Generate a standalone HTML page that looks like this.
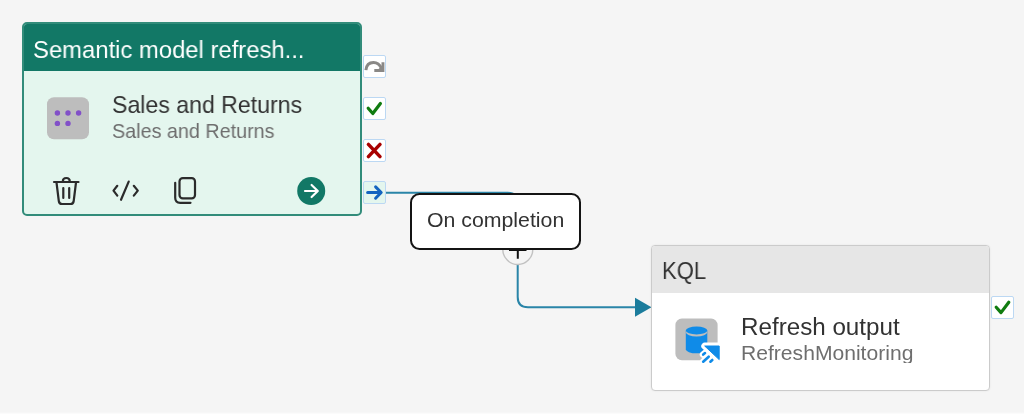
<!DOCTYPE html>
<html><head><meta charset="utf-8">
<style>
html,body{margin:0;padding:0;}
body{width:1024px;height:418px;overflow:hidden;background:#f5f5f5;position:relative;font-family:"Liberation Sans",sans-serif;}
.abs{position:absolute;}
.t{position:absolute;white-space:nowrap;line-height:1;transform-origin:0 0;will-change:transform;}
#strip{left:0;top:412px;width:1024px;height:6px;background:linear-gradient(#f5f5f5 0,#fff 2.5px);}
#c1{left:22.2px;top:22.4px;width:340.1px;height:193.2px;box-sizing:border-box;border:2px solid #328c7a;border-radius:5px;background:#e4f6ee;overflow:hidden;}
#c1h{left:-1px;top:-1px;width:340px;height:47.6px;background:#127866;}
#c2{left:651px;top:244.5px;width:339.2px;height:146.5px;box-sizing:border-box;border:1.3px solid #cbcbcb;border-radius:4px;background:#fff;overflow:hidden;box-shadow:0 0 2px rgba(0,0,0,0.08);}
#c2h{left:0;top:0;width:339px;height:47.8px;background:#e6e6e6;}
.sb{position:absolute;width:22.8px;height:22.8px;box-sizing:border-box;border:1.5px solid #bcd8f3;background:#fff;border-radius:2px;}
#tip{left:410.2px;top:192.6px;width:171px;height:57px;box-sizing:border-box;border:2px solid #141414;border-radius:9.5px;background:#fff;}
</style></head><body>
<div class="abs" id="strip"></div>

<!-- connector line -->
<svg class="abs" style="left:0;top:0" width="1024" height="418" viewBox="0 0 1024 418">
  <path d="M384.6 192.8 H508 Q517.7 192.8 517.7 202 V297 Q517.7 307.3 528 307.3 H637" fill="none" stroke="#2a85a8" stroke-width="2"/>
  <path d="M635 297.8 L651.5 307.3 L635 316.8 Z" fill="#1b7c9c"/>
  <circle cx="517.8" cy="249.5" r="15" fill="#f5f5f5" stroke="#c2c2c2" stroke-width="1.4"/>
  <path d="M509 250 H526.5 M517.8 241 V258.8" stroke="#111" stroke-width="2" fill="none"/>
</svg>

<!-- card 1 -->
<div class="abs" id="c1">
  <div class="abs" id="c1h"></div>
</div>
<div class="t" id="t1" style="left:33.2px;top:37.51px;font-size:24.2px;color:#fff;transform:scaleX(0.985);">Semantic model refresh...</div>
<div class="t" id="t2" style="left:111.5px;top:92.51px;font-size:24.2px;color:#323232;transform:scaleX(0.955);">Sales and Returns</div>
<div class="t" id="t3" style="left:111.8px;top:121.18px;font-size:20.7px;color:#6e6e6e;transform:scaleX(0.955);">Sales and Returns</div>

<svg class="abs" style="left:0;top:0" width="420" height="230" viewBox="0 0 420 230">
  <!-- semantic model icon -->
  <rect x="47" y="97.3" width="42" height="42" rx="7" fill="#bdbdbd"/>
  <g fill="#8250c8">
    <circle cx="57.4" cy="113" r="2.7"/><circle cx="68" cy="113" r="2.7"/><circle cx="78.6" cy="113" r="2.7"/>
    <circle cx="57.4" cy="123.4" r="2.7"/><circle cx="68" cy="123.4" r="2.7"/>
  </g>
  <!-- trash -->
  <g fill="none" stroke="#2b2b2b" stroke-width="2.2" stroke-linecap="round" stroke-linejoin="round">
    <path d="M54 182 H78.5"/>
    <path d="M62.8 181.5 Q62.8 178 66.3 178 Q69.8 178 69.8 181.5"/>
    <path d="M56.5 182.5 L58.8 201 Q59.2 204 62 204 H70.5 Q73.3 204 73.7 201 L76 182.5"/>
    <path d="M63.3 188 V198 M69.2 188 V198"/>
  </g>
  <!-- code -->
  <g fill="none" stroke="#2b2b2b" stroke-width="2.2" stroke-linecap="round" stroke-linejoin="round">
    <path d="M117.3 185.8 L113.5 190.6 L117.3 195.6"/>
    <path d="M133.8 185.8 L137.8 190.6 L133.8 195.6"/>
    <path d="M128.7 181.6 L121 199.8"/>
  </g>
  <!-- copy -->
  <g fill="none" stroke="#2b2b2b" stroke-width="2.2" stroke-linecap="round" stroke-linejoin="round">
    <rect x="179.5" y="178.1" width="15.5" height="20.3" rx="3.3"/>
    <path d="M175.2 182.8 V197.8 Q175.2 202.8 180.2 202.8 H190.5"/>
  </g>
  <!-- go -->
  <circle cx="311.2" cy="191" r="14" fill="#127866"/>
  <path d="M305 191 H317.3 M311.6 185 L317.8 191 L311.6 197" fill="none" stroke="#fff" stroke-width="2.2" stroke-linecap="round" stroke-linejoin="round"/>
</svg>

<!-- side boxes -->
<div class="sb" style="left:363px;top:55px;"></div>
<div class="sb" style="left:363px;top:97px;"></div>
<div class="sb" style="left:363px;top:139px;"></div>
<div class="sb" style="left:363px;top:181px;background:#e4f6ee;"></div>
<div class="sb" style="left:991.1px;top:296px;"></div>
<svg class="abs" style="left:0;top:0" width="1024" height="418" viewBox="0 0 1024 418">
  <!-- skip arrow -->
  <path d="M365.9 70.2 C 366.4 64.8, 369.8 62.5, 373.5 62.5 C 377.5 62.5, 380 65, 381.8 68.8" fill="none" stroke="#8a8886" stroke-width="3"/>
  <path d="M374.3 69 V71.9 H384.4 V62.2 H381.5 V66.5 L378.5 69 Z" fill="#8a8886"/>
  <!-- check -->
  <path d="M368.2 108.3 L372.8 113.5 L380.4 103.5" fill="none" stroke="#107c10" stroke-width="3.2" stroke-linecap="round" stroke-linejoin="round"/>
  <!-- x -->
  <path d="M368.4 144.4 L380 156.6 M380 144.4 L368.4 156.6" fill="none" stroke="#a80000" stroke-width="3.5" stroke-linecap="round"/>
  <!-- arrow -->
  <path d="M367.6 192.5 H380.5 M375.6 186.9 L381.2 192.5 L375.6 198.2" fill="none" stroke="#1464c0" stroke-width="3" stroke-linecap="round" stroke-linejoin="round"/>
  <!-- check2 -->
  <path d="M996.2 307.2 L1001 312.6 L1008.8 302.3" fill="none" stroke="#107c10" stroke-width="3.2" stroke-linecap="round" stroke-linejoin="round"/>
</svg>

<!-- tooltip -->
<div class="abs" id="tip"></div>
<div class="t" id="t4" style="left:426.5px;top:210.1px;font-size:20.7px;color:#323232;transform:scaleX(1.029);">On completion</div>

<!-- card 2 -->
<div class="abs" id="c2">
  <div class="abs" id="c2h"></div>
</div>
<div class="t" id="t5" style="left:661.5px;top:258.61px;font-size:24.2px;color:#323232;transform:scaleX(0.91);">KQL</div>
<div class="t" id="t6" style="left:740.5px;top:314.71px;font-size:24.2px;color:#323232;transform:scaleX(1.0);">Refresh output</div>
<div class="abs" style="left:735px;top:340px;width:240px;height:23px;overflow:hidden;">
<div class="t" id="t7" style="left:5.6px;top:3.08px;font-size:20.7px;color:#6e6e6e;transform:scaleX(1.02);">RefreshMonitoring</div>
</div>
<svg class="abs" style="left:0;top:0" width="1024" height="418" viewBox="0 0 1024 418">
  <rect x="675.4" y="318.6" width="42.2" height="41.6" rx="6.5" fill="#bdbdbd"/>
  <path d="M685.8 330.5 V349.3 A10.75 4 0 0 0 707.3 349.3 V330.5 Z" fill="#0f8be8"/>
  <ellipse cx="696.55" cy="332.1" rx="10.75" ry="4.5" fill="#bdbdbd"/>
  <ellipse cx="696.55" cy="330.5" rx="10.75" ry="3.9" fill="#0f8be8"/>
  <g stroke="#fff" stroke-width="6.8" stroke-linejoin="round" stroke-linecap="round" fill="#fff">
    <path d="M704.7 346 H719.2 V359.6 Z"/>
    <path d="M703.2 354.6 L705 353.1 M703.2 361.7 L708.7 356.7 M710.4 361.7 L712.3 360"/>
  </g>
  <path d="M704.7 346 H719.2 V359.6 Z" fill="#0f8be8" stroke="#0f8be8" stroke-width="1" stroke-linejoin="round"/>
  <path d="M703.2 354.6 L705 353.1 M703.2 361.7 L708.7 356.7 M710.4 361.7 L712.3 360" stroke="#0f8be8" stroke-width="2.6" stroke-linecap="round" fill="none"/>
</svg>
</body></html>
